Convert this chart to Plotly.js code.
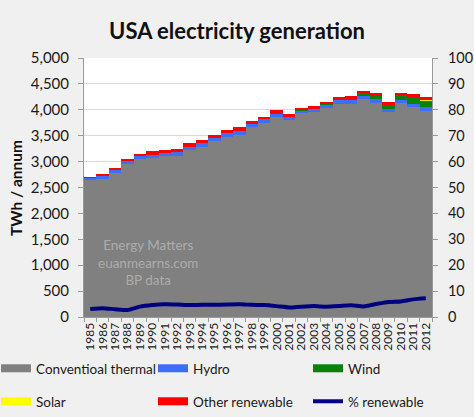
<!DOCTYPE html>
<html>
<head>
<meta charset="utf-8">
<script src="https://cdn.plot.ly/plotly-3.0.1.min.js"></script>
<style>html,body{margin:0;padding:0;background:#f0f0f0;}#chart{width:474px;height:417px;}</style>
</head>
<body>
<div id="chart"></div>
<script>
const years = ['1985','1986','1987','1988','1989','1990','1991','1992','1993','1994','1995','1996','1997','1998','1999','2000','2001','2002','2003','2004','2005','2006','2007','2008','2009','2010','2011','2012'];
const thermal = [2645,2670,2786,2959,3050,3075,3102,3114,3224,3288,3392,3481,3519,3662,3751,3855,3803,3932,3958,4041,4118,4118,4203,4137,3952,4125,4054,3977];
const hydro = [42,55,55,50,50,62,64,62,64,62,64,70,72,64,62,70,58,50,56,55,64,64,62,70,62,62,58,68];
const wind = [0,0,0,0,0,0,0,0,0,0,0,0,0,0,0,5,6,9,10,12,15,27,52,65,73,90,140,130];
const solar = [0,0,0,0,0,0,0,0,0,0,0,0,0,0,0,0,0,0,0,0,0,0,0,0,0,2,4,10];
const other = [21,30,30,35,47,62,64,67,65,67,63,65,71,64,54,60,52,50,49,48,50,52,52,58,58,51,43,62];
const pctRenewable = [3.1,3.4,3.0,2.7,4.0,4.6,4.9,4.8,4.6,4.7,4.7,4.8,4.9,4.7,4.6,4.2,3.7,4.0,4.2,4.0,4.2,4.5,4.1,5.0,5.8,6.0,6.8,7.2];

const names = ['Conventioal thermal','Hydro','Wind','Solar','Other renewable'];
const colors = ['#808080','#3d6ef5','#0a820a','#ffff00','#ff0000'];
const series = [thermal, hydro, wind, solar, other];
const FONT = 'Lato, "Open Sans", sans-serif';

// plot area in px
const L = 84, R = 42, T = 58, B = 100, W = 474 - L - R, H = 417 - T - B;
const px2x = p => (p - L) / W;
const py2y = p => 1 - (p - T) / H;

const traces = [];
series.forEach((s, i) => {
  traces.push({type:'bar', x: years, y: s, name: names[i], marker:{color: colors[i], line:{width:0}}, showlegend:false, hoverinfo:'skip'});
});
// legend entries (top-left pixel of each legend box)
const legendPos = [[-4,353],[153,353],[308,353],[-4,386],[153,386],[308,386]];
const legendIds = ['legend','legend2','legend3','legend4','legend5','legend6'];
[0,1,2,3,4].forEach(i => {
  traces.push({type:'scatter', mode:'lines', x:[null], y:[null], name: names[i], line:{color: colors[i], width:8}, legend: legendIds[i], showlegend:true, hoverinfo:'skip'});
});
traces.push({type:'scatter', mode:'lines', x: years, y: pctRenewable, yaxis:'y2', name:'% renewable', line:{color:'#000080', width:4, shape:'spline', smoothing:0.6}, legend:'legend6', showlegend:true});

const layout = {
  width: 474, height: 417,
  paper_bgcolor:'#f0f0f0', plot_bgcolor:'#ffffff',
  margin:{l:L, r:R, t:T, b:B, autoexpand:false},
  font:{family: FONT, size:14, color:'#1a1a1a'},
  barmode:'stack', bargap:0,
  title:{text:'<b>USA electricity generation</b>', font:{family:FONT, size:22, color:'#111'}, x:0.5, xanchor:'center', y:0.925, yanchor:'middle'},
  xaxis:{type:'category', tickmode:'array', tickvals: years, ticktext: years, tickangle:-90, tickson:'boundaries', ticks:'outside', ticklen:4, tickcolor:'#999', showline:true, linecolor:'#999', tickfont:{size:12, color:'#222'}, showgrid:false, automargin:false},
  yaxis:{range:[0,5000], dtick:500, tickformat:',', ticks:'outside', ticklen:5, tickcolor:'#999', showline:true, linecolor:'#999', gridcolor:'#d9d9d9', tickfont:{size:15}, ticklabelstandoff:6, automargin:false, zeroline:false},
  yaxis2:{overlaying:'y', side:'right', range:[0,100], dtick:10, ticks:'outside', ticklen:5, tickcolor:'#999', showline:true, linecolor:'#999', showgrid:false, tickfont:{size:14.5}, ticklabelstandoff:7, automargin:false, zeroline:false},
  annotations:[
    {text:'Energy Matters<br>euanmearns.com<br>BP data', xref:'paper', yref:'paper', x:px2x(148), y:py2y(262), showarrow:false, font:{size:13.5, color:'#acacac'}, align:'center', xanchor:'center', yanchor:'middle'},
    {text:'<b>TWh / annum</b>', xref:'paper', yref:'paper', x:px2x(16), y:py2y(188), xanchor:'center', yanchor:'middle', textangle:-90, showarrow:false, font:{size:15.5, color:'#111'}}
  ],
  showlegend:true
};
legendIds.forEach((id, k) => {
  layout[id] = {orientation:'v', x: px2x(legendPos[k][0]), y: py2y(legendPos[k][1]), xanchor:'left', yanchor:'top', bgcolor:'rgba(0,0,0,0)', borderwidth:0, font:{size:13.5, color:'#1a1a1a'}, itemwidth:30};
});

Plotly.newPlot('chart', traces, layout, {displayModeBar:false, staticPlot:true});
</script>
</body>
</html>
